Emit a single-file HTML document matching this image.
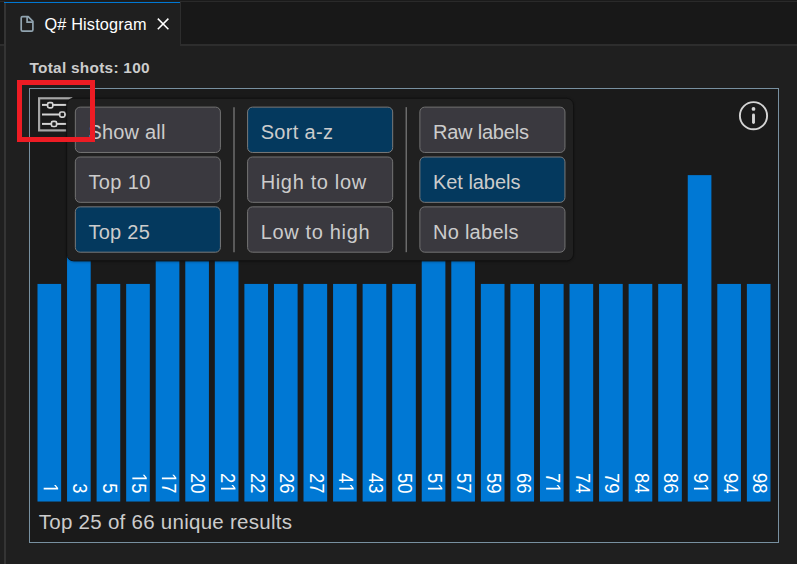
<!DOCTYPE html>
<html><head><meta charset="utf-8">
<style>
*{box-sizing:border-box;margin:0;padding:0}
html,body{width:797px;height:564px;overflow:hidden;background:#1f1f1f;font-family:"Liberation Sans",sans-serif}
.abs{position:absolute}
#tabbar{left:0;top:0;width:797px;height:44px;background:#181818;border-top:1px solid #1b1b1b}
#tabbar2{left:0;top:1px;width:797px;height:1px;background:#2a2a2a}
#tabline{left:0;top:44px;width:797px;height:2px;background:#2d2d2d}
#sash{left:4px;top:3px;width:2px;height:561px;background:#343434}
#tab{left:5px;top:1px;width:176px;height:45px;background:#1f1f1f;border-right:1px solid #2d2d2d}
#tabtop{left:4px;top:2px;width:176px;height:1px;background:#0078d4}
#tabtitle{left:44.5px;top:15.2px;font-size:16.3px;color:#ffffff;line-height:18px;white-space:nowrap;letter-spacing:0.15px}
#total{left:29.5px;top:59.2px;font-size:15.4px;font-weight:bold;color:#cccccc;line-height:18px;white-space:nowrap;letter-spacing:0.27px}
#panel{left:29px;top:88px;width:750px;height:455px;border:1px solid #7890a0;background:#1a1a1a}
#info{left:38.8px;top:509.6px;font-size:20.5px;color:#cccccc;white-space:nowrap;line-height:24px;letter-spacing:0.27px}
#red{left:17px;top:80px;width:78px;height:62px;border:5px solid #ed1c24}
</style></head>
<body>
<div id="tabbar" class="abs"></div>
<div id="tabbar2" class="abs"></div>
<div id="tabline" class="abs"></div>
<div id="tab" class="abs"></div>
<div id="sash" class="abs"></div>
<div id="tabtop" class="abs"></div>
<svg class="abs" style="left:0;top:0" width="797" height="60">
  <path d="M22.6 16.7 H28.2 L32.9 21.4 V29.8 A1.4 1.4 0 0 1 31.5 31.2 H22.6 A1.4 1.4 0 0 1 21.2 29.8 V18.1 A1.4 1.4 0 0 1 22.6 16.7 Z" fill="none" stroke="#91a4b0" stroke-width="1.7" stroke-linejoin="round"/>
  <path d="M27.1 16.7 V22.2 H32.9" fill="none" stroke="#91a4b0" stroke-width="1.7"/>
  <path d="M157.8 18.6 L168.4 29.2 M168.4 18.6 L157.8 29.2" stroke="#ffffff" stroke-width="1.5"/>
</svg>
<div id="tabtitle" class="abs">Q# Histogram</div>
<div id="total" class="abs">Total shots: 100</div>
<div id="panel" class="abs"></div>
<svg class="abs" style="left:0;top:0" width="797" height="564">
  <defs>
    <filter id="sh" x="-10%" y="-10%" width="120%" height="130%" color-interpolation-filters="sRGB">
      <feDropShadow dx="0" dy="0.5" stdDeviation="1" flood-color="#000" flood-opacity="0.35"/>
    </filter>
  </defs>
  <!-- menu icon -->
  <g fill="none">
    <rect x="39.1" y="98.3" width="32.1" height="32.1" stroke="#a6a6a6" stroke-width="2.2"/>
    <line x1="42" y1="104.9" x2="68" y2="104.9" stroke="#d4d4d4" stroke-width="2"/>
    <line x1="42" y1="114.5" x2="68" y2="114.5" stroke="#d4d4d4" stroke-width="2"/>
    <line x1="42" y1="123.9" x2="68" y2="123.9" stroke="#d4d4d4" stroke-width="2"/>
    <rect x="47.6" y="102.6" width="5.2" height="5.2" rx="1.6" fill="#1a1a1a" stroke="#d4d4d4" stroke-width="1.7"/>
    <rect x="59.7" y="112.0" width="5.2" height="5.2" rx="1.6" fill="#1a1a1a" stroke="#d4d4d4" stroke-width="1.7"/>
    <rect x="51.4" y="121.3" width="5.2" height="5.2" rx="1.6" fill="#1a1a1a" stroke="#d4d4d4" stroke-width="1.7"/>
    </g>
  <!-- info icon -->
  <circle cx="753.5" cy="115.7" r="13.6" fill="none" stroke="#d4d4d4" stroke-width="1.9"/>
  <circle cx="753.5" cy="108.9" r="1.9" fill="#d4d4d4"/>
  <line x1="753.5" y1="115" x2="753.5" y2="122.6" stroke="#d4d4d4" stroke-width="2.9" stroke-linecap="round"/>
  <g fill="#0078d4"><rect x="37.49" y="283.93" width="23.65" height="217.60"/><rect x="67.05" y="175.13" width="23.65" height="326.40"/><rect x="96.60" y="283.93" width="23.65" height="217.60"/><rect x="126.16" y="283.93" width="23.65" height="217.60"/><rect x="155.72" y="175.13" width="23.65" height="326.40"/><rect x="185.28" y="175.13" width="23.65" height="326.40"/><rect x="214.83" y="175.13" width="23.65" height="326.40"/><rect x="244.39" y="283.93" width="23.65" height="217.60"/><rect x="273.95" y="283.93" width="23.65" height="217.60"/><rect x="303.51" y="283.93" width="23.65" height="217.60"/><rect x="333.06" y="283.93" width="23.65" height="217.60"/><rect x="362.62" y="283.93" width="23.65" height="217.60"/><rect x="392.18" y="283.93" width="23.65" height="217.60"/><rect x="421.73" y="175.13" width="23.65" height="326.40"/><rect x="451.29" y="175.13" width="23.65" height="326.40"/><rect x="480.85" y="283.93" width="23.65" height="217.60"/><rect x="510.41" y="283.93" width="23.65" height="217.60"/><rect x="539.96" y="283.93" width="23.65" height="217.60"/><rect x="569.52" y="283.93" width="23.65" height="217.60"/><rect x="599.08" y="283.93" width="23.65" height="217.60"/><rect x="628.64" y="283.93" width="23.65" height="217.60"/><rect x="658.19" y="283.93" width="23.65" height="217.60"/><rect x="687.75" y="175.13" width="23.65" height="326.40"/><rect x="717.31" y="283.93" width="23.65" height="217.60"/><rect x="746.87" y="283.93" width="23.65" height="217.60"/></g>
  <g fill="#ffffff" font-size="21" font-family="Liberation Sans"><g transform="translate(43.69,493.5) rotate(90) scale(0.88,1)"><path transform="translate(-11.679,0) scale(0.01025,-0.01025)" d="M515 0V1237L197 1010V1180L530 1409H696V0Z"/></g><g transform="translate(73.25,493.5) rotate(90) scale(0.88,1)"><text x="-11.679">3</text></g><g transform="translate(102.80,493.5) rotate(90) scale(0.88,1)"><text x="-11.679">5</text></g><g transform="translate(132.36,493.5) rotate(90) scale(0.88,1)"><path transform="translate(-23.358,0) scale(0.01025,-0.01025)" d="M515 0V1237L197 1010V1180L530 1409H696V0Z"/><text x="-11.679">5</text></g><g transform="translate(161.92,493.5) rotate(90) scale(0.88,1)"><path transform="translate(-23.358,0) scale(0.01025,-0.01025)" d="M515 0V1237L197 1010V1180L530 1409H696V0Z"/><text x="-11.679">7</text></g><g transform="translate(191.48,493.5) rotate(90) scale(0.88,1)"><text x="-23.358">2</text><text x="-11.679">0</text></g><g transform="translate(221.03,493.5) rotate(90) scale(0.88,1)"><text x="-23.358">2</text><path transform="translate(-11.679,0) scale(0.01025,-0.01025)" d="M515 0V1237L197 1010V1180L530 1409H696V0Z"/></g><g transform="translate(250.59,493.5) rotate(90) scale(0.88,1)"><text x="-23.358">2</text><text x="-11.679">2</text></g><g transform="translate(280.15,493.5) rotate(90) scale(0.88,1)"><text x="-23.358">2</text><text x="-11.679">6</text></g><g transform="translate(309.71,493.5) rotate(90) scale(0.88,1)"><text x="-23.358">2</text><text x="-11.679">7</text></g><g transform="translate(339.26,493.5) rotate(90) scale(0.88,1)"><text x="-23.358">4</text><path transform="translate(-11.679,0) scale(0.01025,-0.01025)" d="M515 0V1237L197 1010V1180L530 1409H696V0Z"/></g><g transform="translate(368.82,493.5) rotate(90) scale(0.88,1)"><text x="-23.358">4</text><text x="-11.679">3</text></g><g transform="translate(398.38,493.5) rotate(90) scale(0.88,1)"><text x="-23.358">5</text><text x="-11.679">0</text></g><g transform="translate(427.93,493.5) rotate(90) scale(0.88,1)"><text x="-23.358">5</text><path transform="translate(-11.679,0) scale(0.01025,-0.01025)" d="M515 0V1237L197 1010V1180L530 1409H696V0Z"/></g><g transform="translate(457.49,493.5) rotate(90) scale(0.88,1)"><text x="-23.358">5</text><text x="-11.679">7</text></g><g transform="translate(487.05,493.5) rotate(90) scale(0.88,1)"><text x="-23.358">5</text><text x="-11.679">9</text></g><g transform="translate(516.61,493.5) rotate(90) scale(0.88,1)"><text x="-23.358">6</text><text x="-11.679">6</text></g><g transform="translate(546.16,493.5) rotate(90) scale(0.88,1)"><text x="-23.358">7</text><path transform="translate(-11.679,0) scale(0.01025,-0.01025)" d="M515 0V1237L197 1010V1180L530 1409H696V0Z"/></g><g transform="translate(575.72,493.5) rotate(90) scale(0.88,1)"><text x="-23.358">7</text><text x="-11.679">4</text></g><g transform="translate(605.28,493.5) rotate(90) scale(0.88,1)"><text x="-23.358">7</text><text x="-11.679">9</text></g><g transform="translate(634.84,493.5) rotate(90) scale(0.88,1)"><text x="-23.358">8</text><text x="-11.679">4</text></g><g transform="translate(664.39,493.5) rotate(90) scale(0.88,1)"><text x="-23.358">8</text><text x="-11.679">6</text></g><g transform="translate(693.95,493.5) rotate(90) scale(0.88,1)"><text x="-23.358">9</text><path transform="translate(-11.679,0) scale(0.01025,-0.01025)" d="M515 0V1237L197 1010V1180L530 1409H696V0Z"/></g><g transform="translate(723.51,493.5) rotate(90) scale(0.88,1)"><text x="-23.358">9</text><text x="-11.679">4</text></g><g transform="translate(753.07,493.5) rotate(90) scale(0.88,1)"><text x="-23.358">9</text><text x="-11.679">8</text></g></g>
  <g font-size="20" font-family="Liberation Sans" fill="#cccccc"><rect x="66.67" y="98.27" width="506.83" height="162.60" rx="7" fill="#202020" stroke="#111111" stroke-width="1" filter="url(#sh)"/><rect x="75.33" y="107.13" width="145.07" height="45.33" rx="4.8" fill="#3a393f" stroke="#737373" stroke-width="1"/><text x="88.43" y="138.77" letter-spacing="0.2">Show all</text><rect x="75.33" y="157.00" width="145.07" height="45.33" rx="4.8" fill="#3a393f" stroke="#737373" stroke-width="1"/><text x="88.43" y="188.63" letter-spacing="0.36">Top 10</text><rect x="75.33" y="206.87" width="145.07" height="45.33" rx="4.8" fill="#04395e" stroke="#7a7a7a" stroke-width="1"/><text x="88.43" y="238.50" letter-spacing="0.26">Top 25</text><rect x="247.60" y="107.13" width="145.07" height="45.33" rx="4.8" fill="#04395e" stroke="#7a7a7a" stroke-width="1"/><text x="260.70" y="138.77" letter-spacing="0.31">Sort a-z</text><rect x="247.60" y="157.00" width="145.07" height="45.33" rx="4.8" fill="#3a393f" stroke="#737373" stroke-width="1"/><text x="260.70" y="188.63" letter-spacing="0.65">High to low</text><rect x="247.60" y="206.87" width="145.07" height="45.33" rx="4.8" fill="#3a393f" stroke="#737373" stroke-width="1"/><text x="260.70" y="238.50" letter-spacing="0.66">Low to high</text><rect x="419.87" y="107.13" width="145.07" height="45.33" rx="4.8" fill="#3a393f" stroke="#737373" stroke-width="1"/><text x="432.97" y="138.77" letter-spacing="-0.21">Raw labels</text><rect x="419.87" y="157.00" width="145.07" height="45.33" rx="4.8" fill="#04395e" stroke="#7a7a7a" stroke-width="1"/><text x="432.97" y="188.63" letter-spacing="-0.04">Ket labels</text><rect x="419.87" y="206.87" width="145.07" height="45.33" rx="4.8" fill="#3a393f" stroke="#737373" stroke-width="1"/><text x="432.97" y="238.50" letter-spacing="0.27">No labels</text><line x1="234.00" y1="107.13" x2="234.00" y2="252.20" stroke="#6c6c6c" stroke-width="1.5"/><line x1="406.27" y1="107.13" x2="406.27" y2="252.20" stroke="#6c6c6c" stroke-width="1.5"/></g>
</svg>
<div id="info" class="abs">Top 25 of 66 unique results</div>
<div id="red" class="abs"></div>
</body></html>
